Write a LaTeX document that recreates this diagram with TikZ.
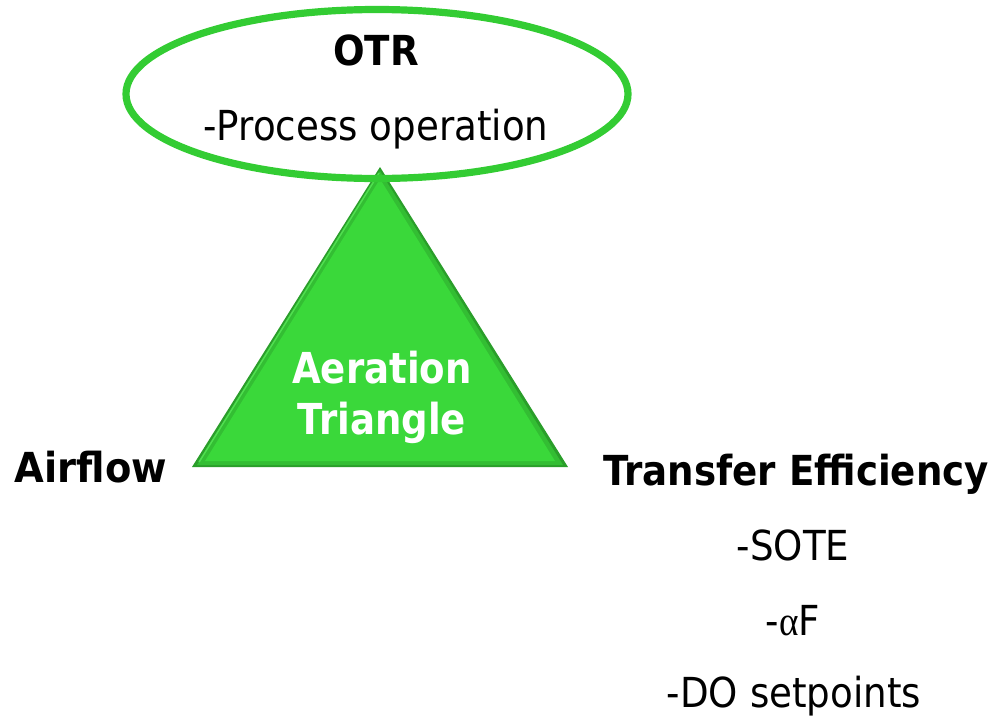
\documentclass[tikz,border=0pt]{standalone}
\usepackage{fontspec}
\usepackage{graphicx}
\setmainfont{DejaVu Sans}
\newfontfamily\symfont{Liberation Serif}
\newcommand{\narrowtxt}[1]{\scalebox{0.9}[1]{#1}}
\newcommand{\narrowertxt}[1]{\scalebox{0.87}[1]{#1}}
\definecolor{ringgreen}{HTML}{33CC33}
\definecolor{trigreen}{HTML}{3AD83A}
\definecolor{tridark}{HTML}{2A9E2A}
\definecolor{trilight}{HTML}{5CF05C}
\tikzset{
  lbl/.style={anchor=base, inner sep=0pt, font=\fontsize{31}{35}\selectfont},
  blbl/.style={lbl, font=\fontsize{31}{35}\selectfont\bfseries},
  wlbl/.style={anchor=base, inner sep=0pt, text=white, font=\fontsize{32}{36}\selectfont\bfseries},
}
\begin{document}
\begin{tikzpicture}[x=0.75pt,y=-0.75pt]
\useasboundingbox (0,0) rectangle (1001,722);
% triangle with bevel
\coordinate (apex) at (380,167);
\coordinate (bl) at (192,467);
\coordinate (br) at (568,467);
\fill[tridark] (apex) -- (bl) -- (br) -- cycle;
\fill[trigreen!88!black] (380,171) -- (197,465) -- (563,465) -- cycle;
\fill[trigreen] (380,179) -- (205,461) -- (555,461) -- cycle;
\draw[trilight, line width=1.2pt, opacity=0.7] (379,173) -- (199,462);
% ellipse
\draw[ringgreen, line width=5.4pt] (377,94) ellipse [x radius=251, y radius=84.5];
\node[blbl] (otr) at (376,65) {\narrowtxt{OTR}};
\node[lbl] (proc) at (376,140) {\narrowtxt{-Process operation}};
\node[wlbl] (aer) at (382,383) {\narrowertxt{Aeration}};
\node[wlbl] (tri) at (382,434) {\narrowertxt{Triangle}};
\node[blbl] (air) at (91,482) {\scalebox{0.93}[1]{Airflow}};
\node[blbl] (te) at (796,485) {\narrowtxt{Transfer Efficiency}};
\node[lbl] (sote) at (793,560) {\narrowtxt{-SOTE}};
\node[lbl] (af) at (793,635) {\narrowtxt{-{\symfont α}F}};
\node[lbl] (dos) at (794,707) {\narrowtxt{-DO setpoints}};
\end{tikzpicture}
\end{document}
